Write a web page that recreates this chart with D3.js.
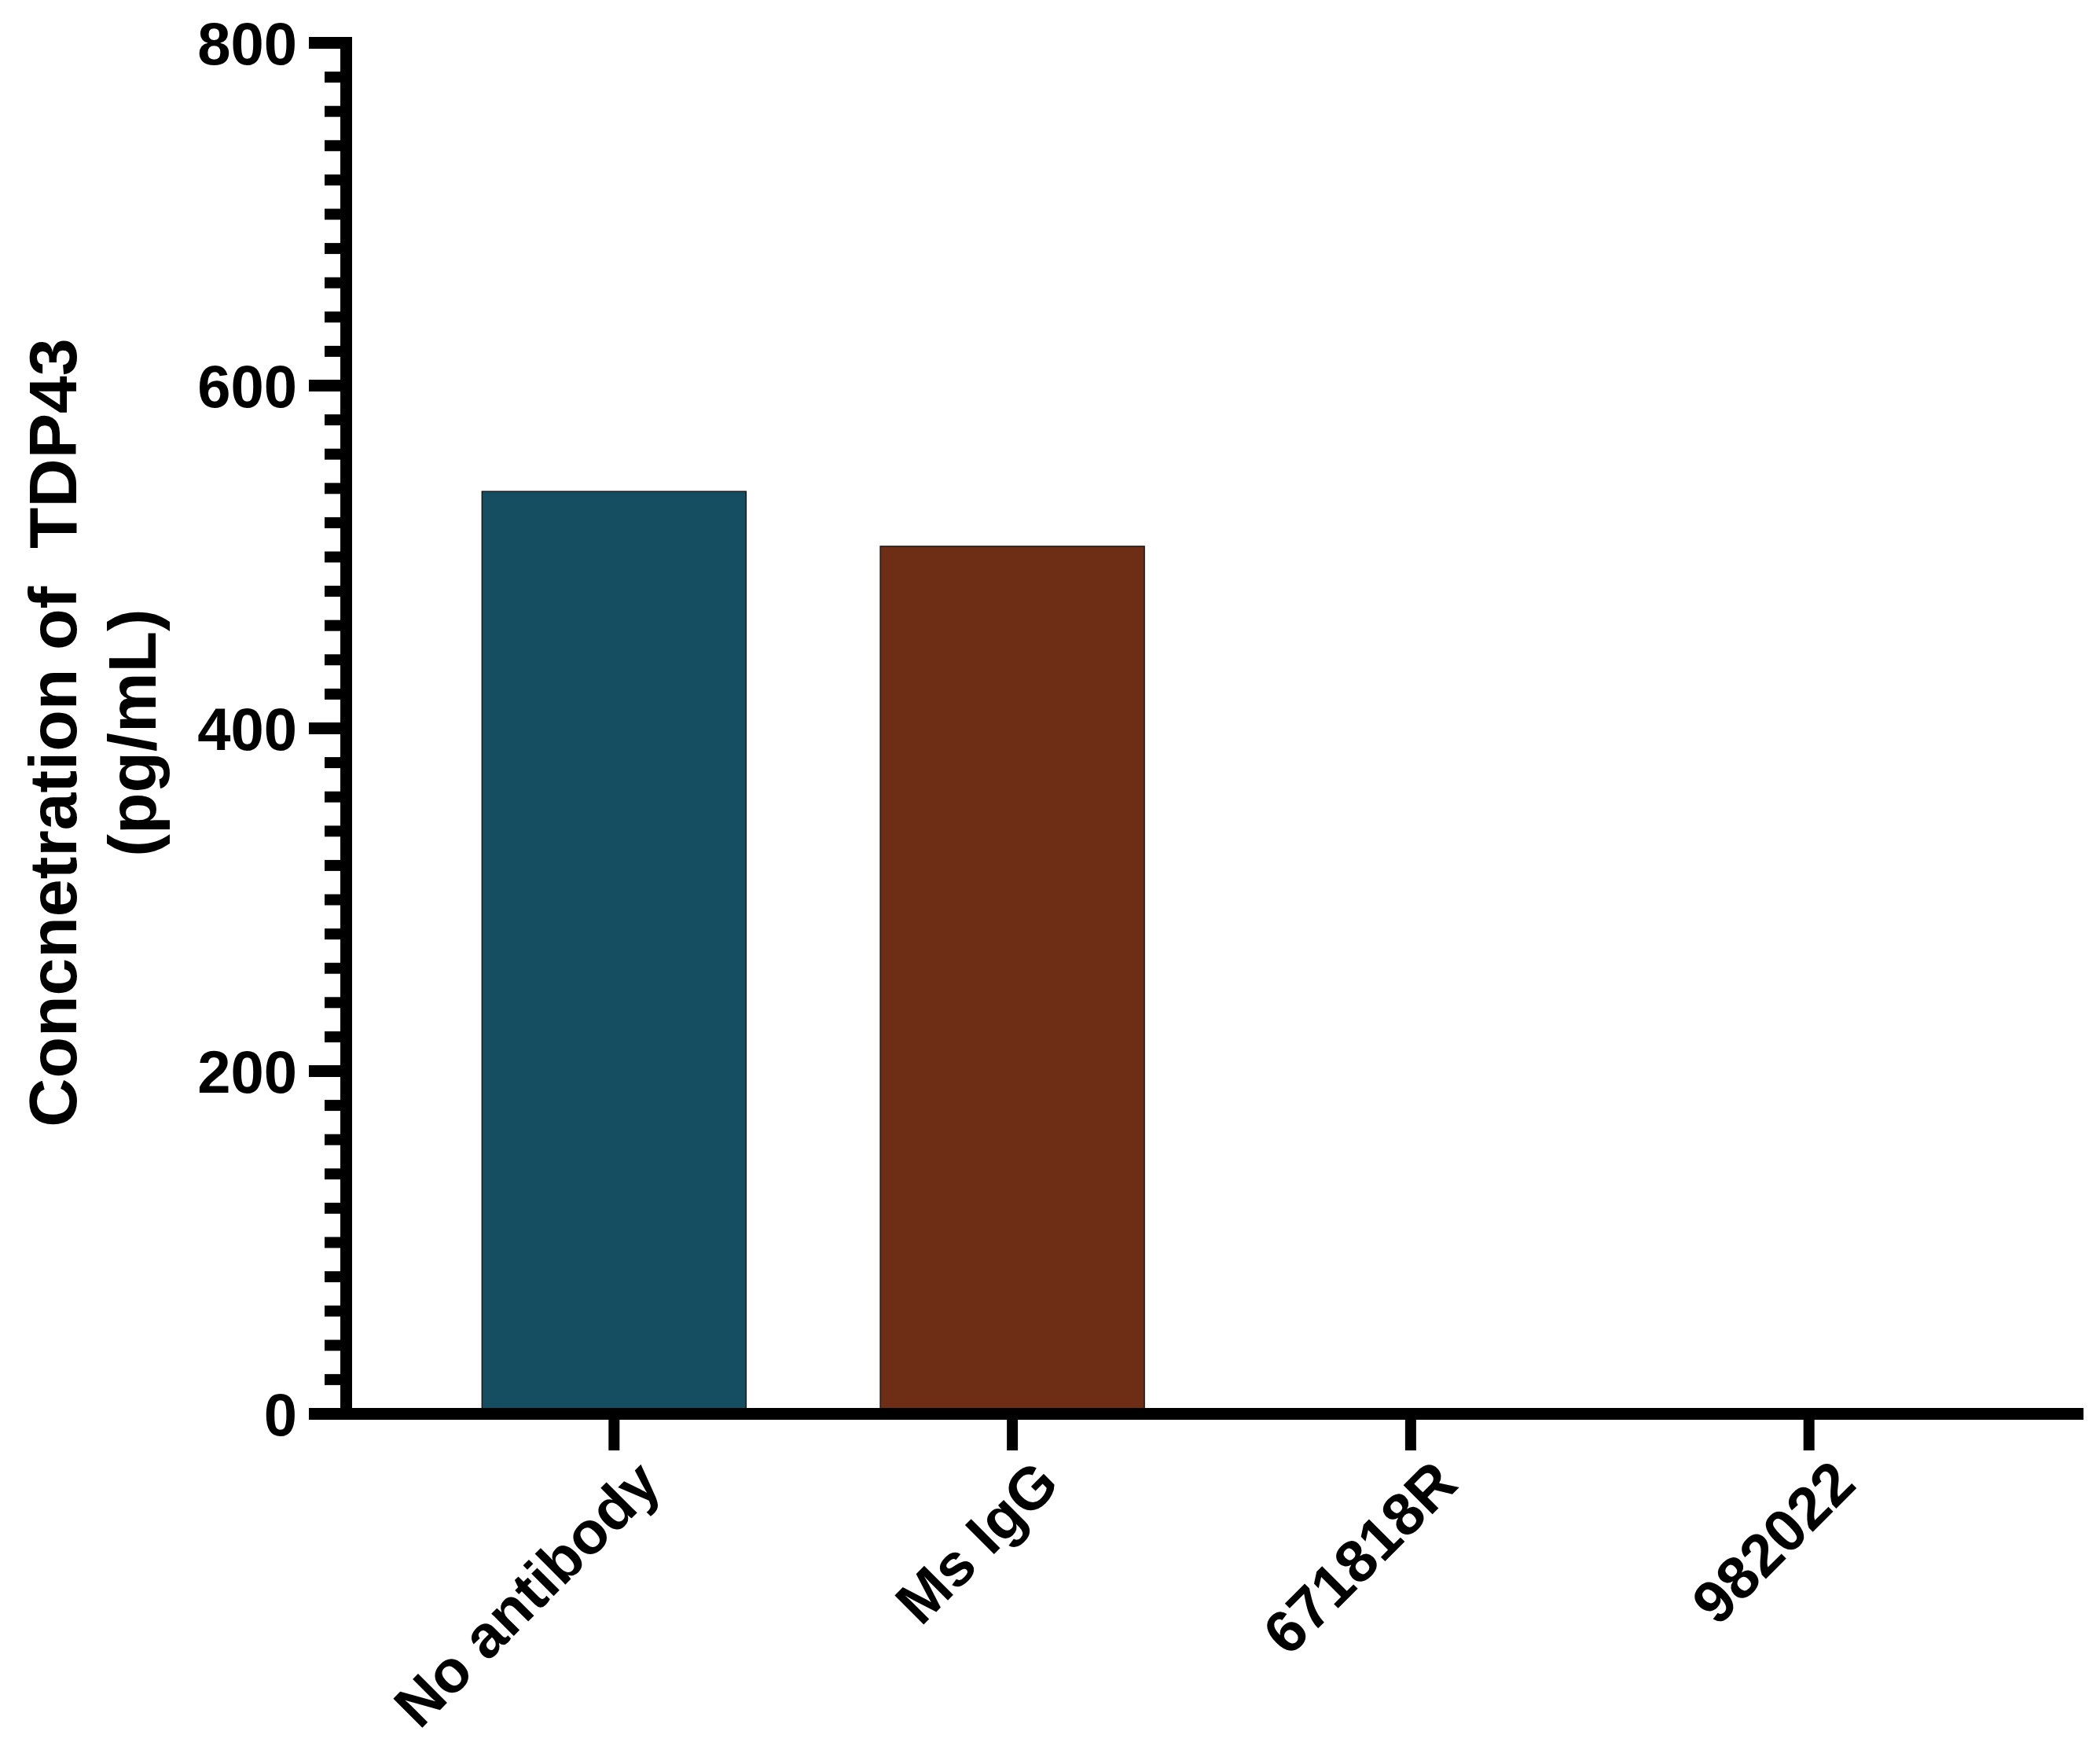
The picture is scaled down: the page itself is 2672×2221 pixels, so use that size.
<!DOCTYPE html>
<html>
<head>
<meta charset="utf-8">
<script src="https://cdn.jsdelivr.net/npm/d3@7"></script>
<style>
  body { margin: 0; background: #fff; }
  text { font-family: "Liberation Sans", Arial, sans-serif; font-weight: bold; fill: #000; }
</style>
</head>
<body>
<div id="chart"></div>
<script>
const categories = ["No antibody", "Ms IgG", "671818R", "982022"];
const values = [538, 506, 0, 0];
const barColors = ["#154e61", "#6e2e15", "#154e61", "#6e2e15"];
const majorTicks = [0, 200, 400, 600, 800];
const minorTicks = d3.range(0, 801, 20).filter(v => v % 200 !== 0);
const yTitle = ["Concnetration of  TDP43", "(pg/mL)"];

const WIDTH = 2672, HEIGHT = 2221;
const AXIS_W = 15;

const svg = d3.select("#chart").append("svg")
  .attr("width", WIDTH)
  .attr("height", HEIGHT);

const y = d3.scaleLinear().domain([0, 800]).range([1798, 54]);
const x = d3.scaleBand().domain(categories).range([440, 2643])
  .paddingInner(0.337).paddingOuter(0.342);

// bars
svg.append("g").selectAll("rect")
  .data(values)
  .join("rect")
  .attr("x", (d, i) => x(categories[i]))
  .attr("y", d => y(d))
  .attr("width", x.bandwidth())
  .attr("height", d => y(0) - y(d))
  .attr("fill", (d, i) => barColors[i])
  .attr("stroke", "#1b1b1b")
  .attr("stroke-width", 1.5);

// minor y ticks
const minorAxis = svg.append("g")
  .attr("transform", "translate(440,0)")
  .call(d3.axisLeft(y).tickValues(minorTicks).tickSize(27).tickFormat(""));
minorAxis.select(".domain").remove();
minorAxis.selectAll(".tick line").attr("stroke", "#000").attr("stroke-width", 14);

// major y ticks + labels
const yAxis = svg.append("g")
  .attr("transform", "translate(440,0)")
  .call(d3.axisLeft(y).tickValues(majorTicks).tickSize(47).tickSizeOuter(0).tickPadding(15));
yAxis.select(".domain").attr("stroke", "#000").attr("stroke-width", AXIS_W).attr("stroke-linecap", "square");
yAxis.selectAll(".tick line").attr("stroke", "#000").attr("stroke-width", 15);
yAxis.selectAll(".tick text")
  .attr("font-size", 76)
  .attr("font-family", "Liberation Sans, Arial, sans-serif")
  .attr("font-weight", "bold")
  .attr("dy", "0.36em");

// x axis
const xAxis = svg.append("g")
  .attr("transform", `translate(0,${y(0)})`)
  .call(d3.axisBottom(x).tickSize(47).tickSizeOuter(0));
xAxis.select(".domain").attr("stroke", "#000").attr("stroke-width", AXIS_W).attr("stroke-linecap", "square");
xAxis.selectAll(".tick line").attr("stroke", "#000").attr("stroke-width", 14);
xAxis.selectAll(".tick text")
  .attr("font-size", 76)
  .attr("font-family", "Liberation Sans, Arial, sans-serif")
  .attr("font-weight", "bold")
  .attr("x", 0)
  .attr("y", 0)
  .attr("dy", "0.35em")
  .attr("transform", "translate(44,74) rotate(-45)")
  .style("text-anchor", "end");

// y axis title, two lines
const titleX = [97, 198];
yTitle.forEach((t, i) => {
  svg.append("text")
    .attr("transform", `translate(${titleX[i]},932) rotate(-90)`)
    .attr("text-anchor", "middle")
    .attr("font-size", 86)
    .style("white-space", "pre")
    .text(t);
});
</script>
</body>
</html>
